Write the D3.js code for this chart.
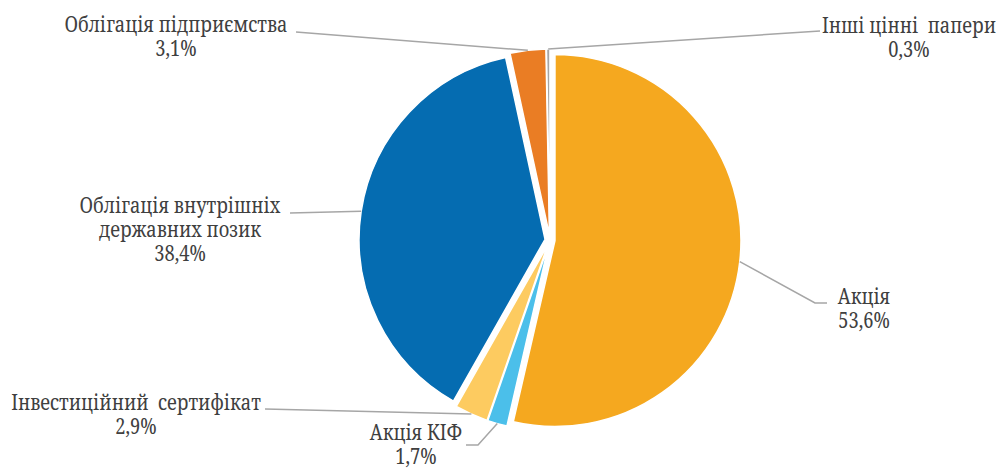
<!DOCTYPE html>
<html><head><meta charset="utf-8">
<script src="https://cdn.jsdelivr.net/npm/d3@7"></script>
<style>
html,body{margin:0;padding:0;background:#fff;}
</style></head>
<body><svg id="c" width="998" height="470"></svg>
<script>
const categories = ["Акція", "Акція КІФ", "Інвестиційний сертифікат", "Облігація внутрішніх державних позик", "Облігація підприємства", "Інші цінні папери"];
const values = [53.6, 1.7, 2.9, 38.4, 3.1, 0.3];
const labelLines = [["Акція", "53,6%"], ["Акція КІФ", "1,7%"], ["Інвестиційний  сертифікат", "2,9%"], ["Облігація внутрішніх", "державних позик", "38,4%"], ["Облігація підприємства", "3,1%"], ["Інші цінні  папери", "0,3%"]];
const colors = ["#F5A81F", "#4BBFEA", "#FDCB60", "#056CB1", "#EA7D24", "#A5A5A5"];

// layout
const W = 998, H = 470, cx = 550, cy = 240, R = 186, explode = 5;
const fontSize = 21, lineH = 24, squeeze = 0.87;
const leaders = [
  {pts: [[815, 303], [827, 303]], tx: 864, ty: 304},
  {pts: [[478, 445], [466, 445]], tx: 416, ty: 440},
  {pts: [[265, 409]], tx: 136, ty: 410},
  {pts: [[290, 213]], tx: 180, ty: 213},
  {pts: [[296, 32]], tx: 176, ty: 32},
  {pts: [[820, 31]], tx: 909, ty: 33}
];

const svg = d3.select("#c");
const data = categories.map((c, i) => ({c, v: values[i], i}));
const pie = d3.pie().value(d => d.v).sort(null).startAngle(0).endAngle(2 * Math.PI);
const arcs = pie(data);
const arc = d3.arc().innerRadius(0).outerRadius(R);

const g = svg.append("g").attr("transform", `translate(${cx},${cy})`);
g.selectAll("path").data(arcs).join("path")
  .attr("d", arc)
  .attr("fill", d => colors[d.index])
  .attr("stroke", "#fff").attr("stroke-width", 1.5)
  .attr("transform", d => {
    const a = (d.startAngle + d.endAngle) / 2;
    return `translate(${explode * Math.sin(a)},${-explode * Math.cos(a)})`;
  });

const line = d3.line();
arcs.forEach((d, i) => {
  const a = (d.startAngle + d.endAngle) / 2;
  const start = [cx + (R + explode) * Math.sin(a), cy - (R + explode) * Math.cos(a)];
  const L = leaders[i];
  svg.append("path").attr("d", line([start, ...L.pts]))
    .attr("fill", "none").attr("stroke", "#A6A6A6").attr("stroke-width", 1.5);
  labelLines[i].forEach((s, k) => {
    svg.append("text").attr("text-anchor", "middle")
      .attr("transform", `translate(${L.tx},0) scale(${squeeze},1)`)
      .attr("font-family", "Noto Serif")
      .attr("font-size", fontSize).attr("fill", "#404040")
      .style("white-space", "pre")
      .attr("x", 0).attr("y", L.ty + k * lineH).text(s);
  });
});
</script></body></html>
